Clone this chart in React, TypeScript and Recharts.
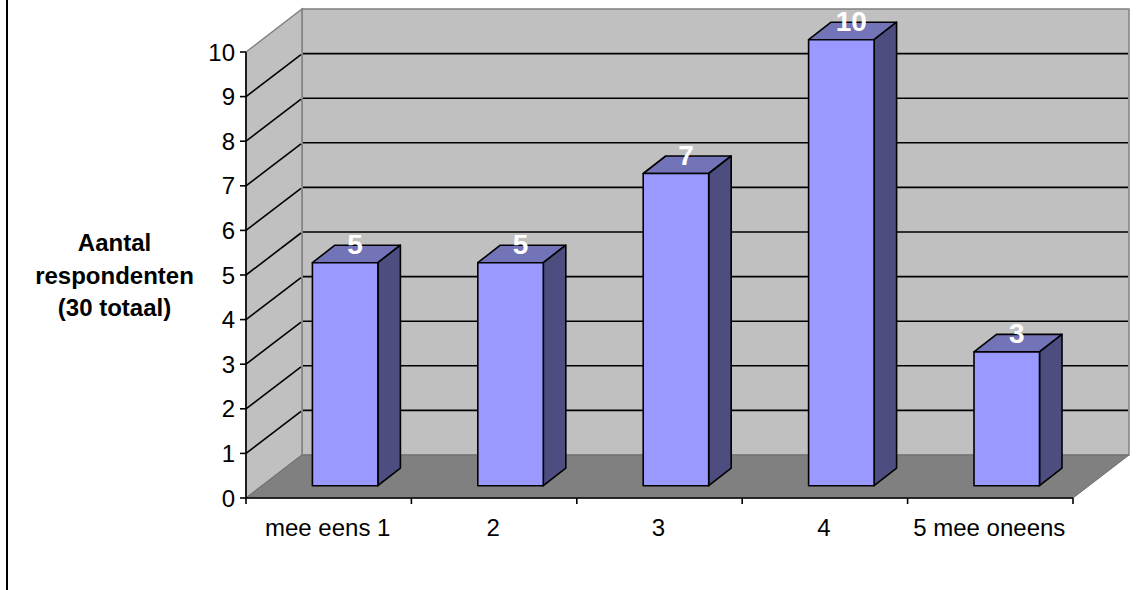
import React from "react";
import { BarChart, Bar, XAxis, YAxis, CartesianGrid, LabelList } from "recharts";

const categories = ["mee eens 1", "2", "3", "4", "5 mee oneens"];
const values = [5, 5, 7, 10, 3];
const yTicks = [0, 1, 2, 3, 4, 5, 6, 7, 8, 9, 10];
const axisTitleLines = ["Aantal", "respondenten", "(30 totaal)"];

const data = categories.map((name, i) => ({ name, value: values[i] }));

const W = 1137;
const H = 590;
const LEFT = 246;
const RIGHT = 1073;
const TOP = 52;
const BOTTOM = 498;
const WALL_DX = 56;
const WALL_DY = 43;
const BAR_DX = 16.4;
const BAR_DY = 12.3;
const DEPTH_DX = 22.5;
const DEPTH_DY = 17.5;
const HALF_BAND = (RIGHT - LEFT) / 10;
const FONT = "'Liberation Sans', Arial, sans-serif";

const pts = (a: number[][]) => a.map((p) => p.join(",")).join(" ");

function gridLine(props: any) {
  const { index } = props;
  return (
    <g key={`g-${index}`}>
      {index === 0 && (
        <g>
          <polygon
            points={pts([[LEFT + WALL_DX, TOP - WALL_DY], [RIGHT + WALL_DX, TOP - WALL_DY], [RIGHT + WALL_DX, BOTTOM - WALL_DY], [LEFT + WALL_DX, BOTTOM - WALL_DY]])}
            fill="#C0C0C0"
            stroke="#808080"
            strokeWidth={1.5}
          />
          <polygon
            points={pts([[LEFT, TOP], [LEFT + WALL_DX, TOP - WALL_DY], [LEFT + WALL_DX, BOTTOM - WALL_DY], [LEFT, BOTTOM]])}
            fill="#C0C0C0"
            stroke="#808080"
            strokeWidth={1.5}
          />
          <polygon
            points={pts([[LEFT, BOTTOM], [LEFT + WALL_DX, BOTTOM - WALL_DY], [RIGHT + WALL_DX, BOTTOM - WALL_DY], [RIGHT, BOTTOM]])}
            fill="#808080"
            stroke="#6e6e6e"
            strokeWidth={1}
          />
        </g>
      )}
    </g>
  );
}

function gridLineOver(props: any) {
  const { y1, index } = props;
  if (Math.abs(y1 - BOTTOM) < 1 || Math.abs(y1 - TOP) < 1) return <g key={`l-${index}`} />;
  return (
    <g key={`l-${index}`}>
      <line x1={LEFT} y1={y1} x2={LEFT + WALL_DX - 1} y2={y1 - WALL_DY + 1} stroke="#000" strokeWidth={1.6} />
      <line x1={LEFT + WALL_DX + 1} y1={y1 - WALL_DY} x2={RIGHT + WALL_DX - 1} y2={y1 - WALL_DY} stroke="#000" strokeWidth={1.6} />
    </g>
  );
}

function Bar3D(props: any) {
  const { x, y, width, height } = props;
  const l = x + BAR_DX;
  const r = l + width;
  const t = y - BAR_DY;
  const b = t + height;
  return (
    <g stroke="#000" strokeWidth={1.6} strokeLinejoin="round">
      <polygon points={pts([[l, t], [l + DEPTH_DX, t - DEPTH_DY], [r + DEPTH_DX, t - DEPTH_DY], [r, t]])} fill="#7373B8" />
      <polygon points={pts([[r, t], [r + DEPTH_DX, t - DEPTH_DY], [r + DEPTH_DX, b - DEPTH_DY], [r, b]])} fill="#4D4D80" />
      <rect x={l} y={t} width={width} height={height} fill="#9999FF" />
    </g>
  );
}

function BarValue(props: any) {
  const { x, y, width, value } = props;
  return (
    <text x={x + width / 2 + BAR_DX + 10} y={y - 21} textAnchor="middle" fill="#fff" fontFamily={FONT} fontWeight="bold" fontSize={28}>
      {value}
    </text>
  );
}

function XTick(props: any) {
  const { x, payload, index } = props;
  return (
    <g>
      <line x1={x - HALF_BAND} y1={BOTTOM} x2={x - HALF_BAND} y2={BOTTOM + 6} stroke="#000" strokeWidth={1.6} />
      {index === categories.length - 1 && (
        <line x1={x + HALF_BAND} y1={BOTTOM} x2={x + HALF_BAND} y2={BOTTOM + 6} stroke="#000" strokeWidth={1.6} />
      )}
      <text x={x - 1} y={BOTTOM + 38} textAnchor="middle" fill="#000" fontFamily={FONT} fontSize={24}>
        {payload.value}
      </text>
    </g>
  );
}

function YTitle() {
  return (
    <text textAnchor="middle" fill="#000" fontFamily={FONT} fontWeight="bold" fontSize={24}>
      {axisTitleLines.map((line, i) => (
        <tspan key={line} x={114.5} y={251 + i * 32.5}>
          {line}
        </tspan>
      ))}
    </text>
  );
}

export default function App() {
  return (
    <div style={{ position: "absolute", left: 0, top: 0, width: W, height: H, overflow: "hidden", background: "#fff" }}>
      <div style={{ position: "absolute", left: 6, top: 0, width: 2, height: H, background: "#000" }} />
      <BarChart
        width={W}
        height={H}
        data={data}
        barSize={65.5}
        margin={{ top: TOP, right: W - RIGHT, bottom: 0, left: 0 }}
      >
        <CartesianGrid vertical={false} horizontal={gridLine} />
        <CartesianGrid vertical={false} horizontal={gridLineOver} />
        <XAxis
          dataKey="name"
          height={H - BOTTOM}
          interval={0}
          axisLine={{ stroke: "#000", strokeWidth: 1.6 }}
          tickLine={false}
          tick={<XTick />}
        />
        <YAxis
          width={LEFT}
          domain={[0, 10]}
          ticks={yTicks}
          interval={0}
          tickSize={6}
          tickMargin={5}
          axisLine={{ stroke: "#000", strokeWidth: 1.6 }}
          tickLine={{ stroke: "#000", strokeWidth: 1.6 }}
          tick={{ fill: "#000", fontFamily: FONT, fontSize: 24 }}
          label={<YTitle />}
        />
        <Bar dataKey="value" shape={<Bar3D />} isAnimationActive={false}>
          <LabelList dataKey="value" content={<BarValue />} />
        </Bar>
      </BarChart>
    </div>
  );
}
